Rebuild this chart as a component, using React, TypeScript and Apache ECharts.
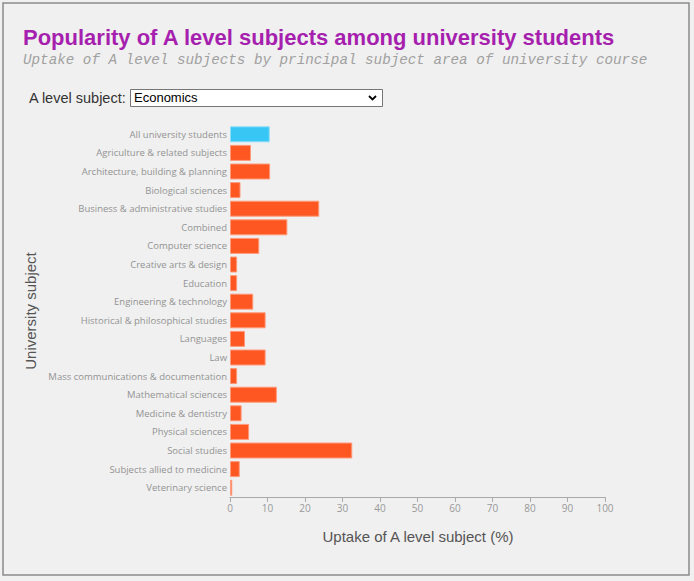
import React, { useEffect, useRef } from "react";
import * as echarts from "echarts";

const categories = [
  "All university students",
  "Agriculture & related subjects",
  "Architecture, building & planning",
  "Biological sciences",
  "Business & administrative studies",
  "Combined",
  "Computer science",
  "Creative arts & design",
  "Education",
  "Engineering & technology",
  "Historical & philosophical studies",
  "Languages",
  "Law",
  "Mass communications & documentation",
  "Mathematical sciences",
  "Medicine & dentistry",
  "Physical sciences",
  "Social studies",
  "Subjects allied to medicine",
  "Veterinary science",
];

const uptake = [
  10.6, 5.6, 10.7, 2.8, 23.8, 15.3, 7.8, 1.9, 1.9, 6.2, 9.5, 4.0, 9.5, 1.9, 12.5,
  3.1, 5.1, 32.6, 2.6, 0.6,
];

const xTicks = { min: 0, max: 100, interval: 10 };

const titleText = "Popularity of A level subjects among university students";
const subtitleText =
  "Uptake of A level subjects by principal subject area of university course";
const selectLabel = "A level subject:";
const selectedSubject = "Economics";
const xAxisTitle = "Uptake of A level subject (%)";
const yAxisTitle = "University subject";

export default function App() {
  const ref = useRef<HTMLDivElement>(null);

  useEffect(() => {
    if (!ref.current) return;
    const chart = echarts.init(ref.current, null, { renderer: "svg" });
    const catFont = "'Open Sans', sans-serif";
    chart.setOption({
      animation: false,
      backgroundColor: "#f0f0f0",
      grid: { left: 230, top: 125, width: 375, height: 372, containLabel: false },
      xAxis: {
        type: "value",
        min: xTicks.min,
        max: xTicks.max,
        interval: xTicks.interval,
        axisLine: { show: true, lineStyle: { color: "#aaaaaa", width: 1 } },
        axisTick: { show: true, length: 5, lineStyle: { color: "#aaaaaa" } },
        axisLabel: { color: "#999999", fontSize: 10, fontFamily: catFont, margin: 6 },
        splitLine: { show: false },
      },
      yAxis: {
        type: "category",
        data: categories,
        inverse: true,
        axisLine: { show: false },
        axisTick: { show: false },
        axisLabel: { color: "#939393", fontSize: 9.5, fontFamily: catFont, margin: 3 },
      },
      series: [
        {
          type: "bar",
          barCategoryGap: "14%",
          data: uptake.map((v, i) => ({
            value: v,
            itemStyle:
              i === 0
                ? { color: "#38c6f4", borderColor: "#8fdcf7", borderWidth: 1 }
                : { color: "#ff5722", borderColor: "#ff9a7a", borderWidth: 1 },
          })),
        },
      ],
      graphic: [
        {
          type: "rect",
          z: -10,
          shape: { x: 3, y: 3, width: 686, height: 572 },
          style: { fill: "#f0f0f0", stroke: "#8a8a8a", lineWidth: 1.5 },
        },
        {
          type: "text",
          x: 23,
          y: 26,
          style: {
            text: titleText,
            font: "bold 22px 'Liberation Sans', Arial, sans-serif",
            fill: "#a61fae",
          },
        },
        {
          type: "text",
          x: 23,
          y: 53,
          style: {
            text: subtitleText,
            font: "italic 14.25px 'Liberation Mono', 'Courier New', monospace",
            fill: "#a0a0a0",
          },
        },
        {
          type: "text",
          x: 29,
          y: 90,
          style: {
            text: selectLabel,
            font: "14.5px 'Liberation Sans', Arial, sans-serif",
            fill: "#333333",
          },
        },
        {
          type: "rect",
          shape: { x: 130.5, y: 89.5, width: 252, height: 17 },
          style: { fill: "#ffffff", stroke: "#767676", lineWidth: 1 },
        },
        {
          type: "text",
          x: 134,
          y: 91,
          style: {
            text: selectedSubject,
            font: "13px 'Liberation Sans', Arial, sans-serif",
            fill: "#000000",
          },
        },
        {
          type: "polyline",
          shape: { points: [[369, 96], [372.5, 99.5], [376, 96]] },
          style: { stroke: "#000000", lineWidth: 1.8, fill: "none" },
        },
        {
          type: "text",
          x: 418,
          y: 536,
          style: {
            text: xAxisTitle,
            font: "15px 'Liberation Sans', Arial, sans-serif",
            fill: "#555555",
            align: "center",
            verticalAlign: "middle",
          },
        },
        {
          type: "text",
          x: 30,
          y: 311,
          rotation: Math.PI / 2,
          style: {
            text: yAxisTitle,
            font: "15px 'Liberation Sans', Arial, sans-serif",
            fill: "#555555",
            align: "center",
            verticalAlign: "middle",
          },
        },
      ],
    });
    return () => chart.dispose();
  }, []);

  return (
    <div
      ref={ref}
      style={{ position: "fixed", left: 0, top: 0, width: 694, height: 581 }}
    />
  );
}
